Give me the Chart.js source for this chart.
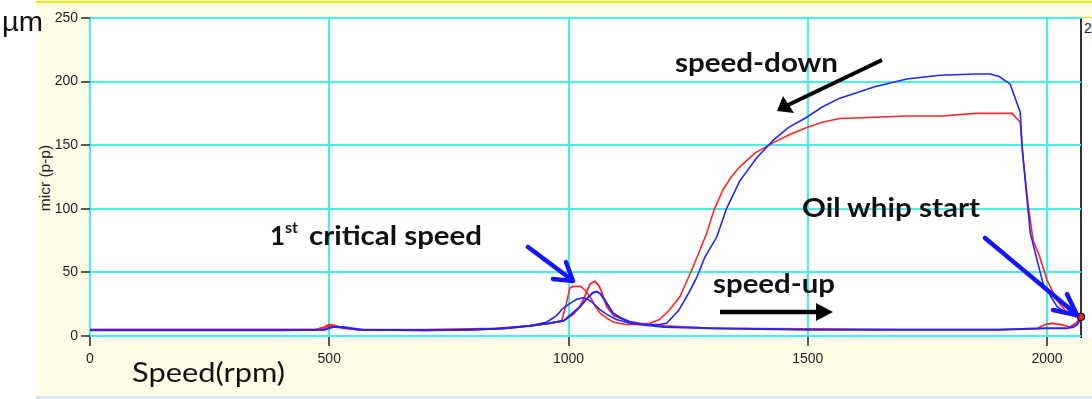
<!DOCTYPE html>
<html>
<head>
<meta charset="utf-8">
<script src="https://cdn.jsdelivr.net/npm/chart.js@4"></script>
<style>
  html, body { margin: 0; padding: 0; background: #fff; overflow: hidden; }
  #wrap { position: relative; width: 1092px; height: 399px; overflow: hidden; }
  .abs { position: absolute; }
  #panel { left: 36px; top: 1px; width: 1056px; height: 393px; background: #fffde6; border-top: 2px solid #f2ee00; border-bottom: 1px solid #f2ee00; }
  #strip { left: 36px; top: 396px; width: 1056px; height: 3px; background: #dce8f4; }
  #plot { left: 89px; top: 17px; width: 1003px; height: 320px; background: #fff; border-left: 1px solid #f2ee00; border-top: 1px solid #f2ee00; }
  #rline { left: 1080px; top: 18px; width: 1.5px; height: 320px; background: #333; }
  #rlab { left: 1084px; top: 20px; font: 14px 'Liberation Sans', Arial, sans-serif; color: #222; }
  #ytitle { left: 45px; top: 178px; transform: translate(-50%, -50%) rotate(-90deg); font: 15.5px 'Liberation Sans', Arial, sans-serif; color: #222; white-space: nowrap; }
  canvas { position: absolute; left: 0; top: 0; }
  svg { position: absolute; left: 0; top: 0; }
</style>
</head>
<body>
<div id="wrap">
  <div id="panel" class="abs"></div>
  <div id="strip" class="abs"></div>
  <div id="plot" class="abs"></div>
  <div id="rline" class="abs"></div>
  <div id="rlab" class="abs">250</div>
  <div id="ytitle" class="abs">micr (p-p)</div>
  <canvas id="c" width="1092" height="399"></canvas>
  <svg width="1092" height="399" font-family="Lato, 'Liberation Sans', sans-serif">
    <!-- units and axis name -->
    <text x="2" y="31" font-size="28" font-family="'Liberation Sans', Arial, sans-serif" textLength="41" lengthAdjust="spacingAndGlyphs" fill="#111">µm</text>
    <text x="132" y="382" font-size="27" textLength="153" lengthAdjust="spacingAndGlyphs" fill="#111">Speed(rpm)</text>

    <!-- annotations -->
    <text x="675" y="72" font-size="26" font-weight="bold" textLength="163" lengthAdjust="spacingAndGlyphs" fill="#111">speed-down</text>
    <text x="802" y="217" font-size="26" font-weight="bold" textLength="178" lengthAdjust="spacingAndGlyphs" fill="#111">Oil whip start</text>
    <text x="270" y="245" font-size="26" font-weight="bold" fill="#111">1</text>
    <text x="285" y="233" font-size="16" font-weight="bold" fill="#111">st</text>
    <text x="309" y="245" font-size="26" font-weight="bold" textLength="173" lengthAdjust="spacingAndGlyphs" fill="#111">critical speed</text>
    <text x="713" y="293" font-size="26" font-weight="bold" textLength="122" lengthAdjust="spacingAndGlyphs" fill="#111">speed-up</text>

    <!-- black arrows -->
    <line x1="882" y1="60" x2="786" y2="106" stroke="#000" stroke-width="4"/>
    <polygon points="777,111 783,96 794,113" fill="#000"/>
    <line x1="720" y1="312" x2="820" y2="312" stroke="#000" stroke-width="4.5"/>
    <polygon points="833,312 816,303 816,321" fill="#000"/>

    <!-- blue arrows -->
    <g stroke="#1414ff" stroke-width="4.5" fill="none" stroke-linecap="round" stroke-linejoin="round">
      <line x1="528" y1="247" x2="572" y2="280"/>
      <polyline points="553,279 573,281 566,262"/>
      <line x1="985" y1="238" x2="1076" y2="314"/>
      <polyline points="1053,310 1077,315 1067,294"/>
    </g>
  </svg>
</div>
<script>
// speed (rpm) and amplitude (micr p-p)
const RED_UP_RPM = [0, 200, 400, 470, 490, 500, 515, 530, 560, 700, 800, 870, 920, 960, 990, 1010, 1024, 1035, 1045, 1055, 1063, 1070, 1080, 1095, 1108, 1130, 1150, 1200, 1300, 1500, 1700, 1900, 1980, 1996, 2010, 2030, 2048, 2060, 2065, 2071];
const RED_UP_AMP = [5, 5, 5, 5, 7, 9, 8, 6, 5, 4.5, 5, 6, 8, 10, 12, 17, 23, 32, 41, 43, 40, 34, 23, 16, 14, 11, 10, 8, 6, 5.5, 5, 5, 6, 9, 10, 9, 7, 10, 12, 15];

const BLUE_UP_RPM = [0, 200, 400, 490, 505, 530, 550, 570, 700, 800, 870, 920, 960, 990, 1024, 1040, 1051, 1059, 1067, 1076, 1093, 1110, 1128, 1150, 1200, 1300, 1500, 1700, 1900, 2000, 2040, 2055, 2063, 2071];
const BLUE_UP_AMP = [4.5, 4.5, 4.5, 5, 7, 7, 6, 5, 4.5, 5, 6, 8, 10, 12, 23, 30, 34, 35, 33, 28, 18, 14, 11, 9, 7, 6, 5, 5, 5, 6, 6, 7, 9, 14];

const RED_DOWN_RPM = [0, 200, 400, 480, 500, 520, 560, 700, 850, 930, 960, 986, 995, 1003, 1010, 1025, 1035, 1045, 1055, 1066, 1080, 1093, 1120, 1150, 1170, 1190, 1210, 1233, 1260, 1289, 1305, 1323, 1340, 1358, 1390, 1428, 1460, 1498, 1530, 1567, 1640, 1707, 1780, 1850, 1927, 1944, 1950, 1960, 1971, 1985, 2000, 2021, 2042, 2060, 2071];
const RED_DOWN_AMP = [5, 5, 5, 5, 8, 7, 5, 5, 6, 8.5, 10, 12, 25, 38, 39, 39, 36, 31, 24, 18, 14, 11, 9, 9, 10, 13, 20, 31, 54, 81, 100, 115, 125, 133, 144, 152, 158, 164, 168, 171, 172, 173, 173, 175, 175, 168, 140, 105, 75, 62, 44, 28, 18, 16, 15];

const BLUE_DOWN_RPM = [0, 200, 400, 490, 510, 530, 560, 700, 850, 920, 955, 975, 989, 1005, 1018, 1030, 1040, 1051, 1065, 1080, 1100, 1128, 1160, 1190, 1205, 1230, 1250, 1268, 1285, 1310, 1330, 1358, 1393, 1428, 1460, 1498, 1530, 1567, 1640, 1707, 1776, 1850, 1881, 1900, 1923, 1944, 1948, 1955, 1965, 1979, 1992, 2021, 2045, 2071];
const BLUE_DOWN_AMP = [4.5, 4.5, 4.5, 5, 7, 6.5, 5, 4.5, 5.5, 8, 11, 16, 22, 26, 29, 30, 29, 26, 21, 17, 13, 10, 9, 9, 10, 20, 33, 46, 62, 78, 100, 122, 140, 154, 164, 172, 180, 187, 196, 202, 205, 206, 206, 204, 198, 176, 148, 120, 81, 60, 41, 23, 17, 14];

const WHIP_RPM = [2071];
const WHIP_AMP = [15];

const X_TICKS = [0, 500, 1000, 1500, 2000];
const Y_TICKS = [0, 50, 100, 150, 200, 250];

const RED = '#ff2626';
const BLUE = '#2424ff';
const CYAN = '#3ff2f2';
const TICK_FONT = { family: "'Liberation Sans', Arial, sans-serif", size: 14 };

function pts(xs, ys) {
  return xs.map((x, i) => ({ x, y: ys[i] }));
}

function mkLine(data, color, order, width) {
  return {
    data, borderColor: color, backgroundColor: color, borderWidth: width,
    showLine: true, pointRadius: 0, tension: 0, order
  };
}

new Chart(document.getElementById('c'), {
  type: 'scatter',
  data: {
    datasets: [
      {
        data: pts(WHIP_RPM, WHIP_AMP), pointRadius: 3.5, pointBackgroundColor: RED,
        pointBorderColor: '#000', pointBorderWidth: 1.2, showLine: false, order: 0
      },
      mkLine(pts(BLUE_UP_RPM, BLUE_UP_AMP), BLUE, 1, 2),
      mkLine(pts(BLUE_DOWN_RPM, BLUE_DOWN_AMP), BLUE, 2, 1.6),
      mkLine(pts(RED_UP_RPM, RED_UP_AMP), RED, 3, 1.8),
      mkLine(pts(RED_DOWN_RPM, RED_DOWN_AMP), RED, 4, 1.6)
    ]
  },
  options: {
    responsive: false, animation: false, clip: false,
    layout: { padding: { left: 0, top: 18, right: 11, bottom: 0 } },
    plugins: { legend: { display: false }, tooltip: { enabled: false } },
    scales: {
      x: {
        type: 'linear', min: 0, max: 2071,
        afterBuildTicks: s => { s.ticks = X_TICKS.map(v => ({ value: v })); },
        afterFit: s => { s.height = 63; },
        border: { display: false },
        grid: { color: CYAN, lineWidth: 2, tickColor: '#222', tickLength: 10, tickWidth: 1.5 },
        ticks: { font: TICK_FONT, color: '#1e1e1e', padding: 5, maxRotation: 0, callback: v => String(v) }
      },
      y: {
        min: 0, max: 250,
        afterBuildTicks: s => { s.ticks = Y_TICKS.map(v => ({ value: v })); },
        afterFit: s => { s.width = 90; },
        border: { display: false },
        grid: { color: CYAN, lineWidth: 2, tickColor: '#222', tickLength: 9, tickWidth: 1.5 },
        ticks: { font: TICK_FONT, color: '#1e1e1e', padding: 3, callback: v => String(v) }
      }
    }
  }
});
</script>
</body>
</html>
